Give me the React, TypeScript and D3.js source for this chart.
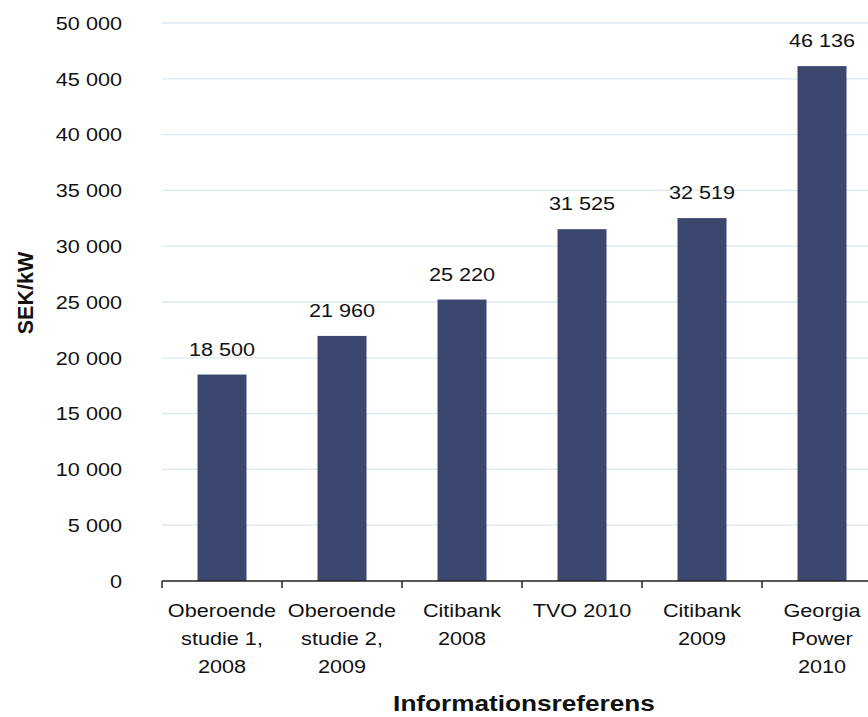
import * as d3 from 'd3';
import { useEffect, useRef } from 'react';

const categories = [
  ['Oberoende', 'studie 1,', '2008'],
  ['Oberoende', 'studie 2,', '2009'],
  ['Citibank', '2008'],
  ['TVO 2010'],
  ['Citibank', '2009'],
  ['Georgia', 'Power', '2010'],
];
const values = [18500, 21960, 25220, 31525, 32519, 46136];
const yTicks = [0, 5000, 10000, 15000, 20000, 25000, 30000, 35000, 40000, 45000, 50000];

const fmt = (v: number) => d3.format(',')(v).replace(/,/g, ' ');

const App = () => {
  const ref = useRef<SVGSVGElement>(null);

  useEffect(() => {
    const svg = d3.select(ref.current);
    svg.selectAll('*').remove();

    const width = 868;
    const height = 717;
    const margin = { top: 23, left: 162, bottom: 136 };
    const font = '"Liberation Sans", Arial, sans-serif';
    const sx = 1.14; // the original text is a bit wider than Arial

    const keys = categories.map((_, i) => String(i));
    // band continues past the right edge, like in the original
    const x = d3.scaleBand().domain(keys).range([margin.left, margin.left + 120 * keys.length]).padding(0);
    const y = d3.scaleLinear().domain([0, 50000]).range([height - margin.bottom, margin.top]);
    const base = y(0);
    const barW = 49;
    const mid = (i: number) => x(String(i))! + x.bandwidth() / 2;

    svg.attr('width', width).attr('height', height).style('font-family', font);

    // gridlines
    svg.append('g')
      .selectAll('line')
      .data(yTicks.filter(t => t > 0))
      .enter()
      .append('line')
      .attr('x1', margin.left)
      .attr('x2', width)
      .attr('y1', d => y(d))
      .attr('y2', d => y(d))
      .attr('stroke', '#dbe8f1')
      .attr('stroke-width', 1.3);

    // y tick labels
    svg.append('g')
      .selectAll('text')
      .data(yTicks)
      .enter()
      .append('text')
      .attr('transform', d => `translate(122, ${y(d)}) scale(${sx}, 1)`)
      .attr('dy', '0.36em')
      .attr('text-anchor', 'end')
      .style('font-size', '19px')
      .attr('fill', '#111')
      .text(d => fmt(d));

    // bars
    svg.append('g')
      .selectAll('rect')
      .data(values)
      .enter()
      .append('rect')
      .attr('x', (d, i) => mid(i) - barW / 2)
      .attr('y', d => y(d))
      .attr('width', barW)
      .attr('height', d => base - y(d))
      .attr('fill', '#3c4770');

    // value labels
    svg.append('g')
      .selectAll('text')
      .data(values)
      .enter()
      .append('text')
      .attr('transform', (d, i) => `translate(${mid(i)}, ${y(d) - 19}) scale(${sx}, 1)`)
      .attr('text-anchor', 'middle')
      .style('font-size', '19px')
      .attr('fill', '#111')
      .text(d => fmt(d));

    // x axis
    const axis = svg.append('g');
    axis.append('line')
      .attr('x1', margin.left)
      .attr('x2', width)
      .attr('y1', base)
      .attr('y2', base)
      .attr('stroke', '#222')
      .attr('stroke-width', 1.5);
    axis.selectAll('line.tick')
      .data(keys)
      .enter()
      .append('line')
      .attr('class', 'tick')
      .attr('x1', d => x(d)!)
      .attr('x2', d => x(d)!)
      .attr('y1', base)
      .attr('y2', base + 7)
      .attr('stroke', '#222')
      .attr('stroke-width', 1.5);

    const labels = axis.selectAll('text')
      .data(categories)
      .enter()
      .append('text')
      .attr('transform', (d, i) => `translate(${mid(i)}, ${base + 36}) scale(${sx}, 1)`)
      .attr('text-anchor', 'middle')
      .style('font-size', '19px')
      .attr('fill', '#111');
    labels.each(function (lines) {
      const t = d3.select(this);
      lines.forEach((line, j) => {
        t.append('tspan')
          .attr('x', 0)
          .attr('y', j * 28)
          .text(line);
      });
    });

    // axis titles
    svg.append('text')
      .attr('transform', `translate(524, 711) scale(1.19, 1)`)
      .attr('text-anchor', 'middle')
      .style('font-size', '22px')
      .style('font-weight', 'bold')
      .attr('fill', '#111')
      .text('Informationsreferens');

    svg.append('text')
      .attr('transform', `translate(33, 293) rotate(-90)`)
      .attr('text-anchor', 'middle')
      .style('font-size', '21.5px')
      .style('font-weight', 'bold')
      .attr('fill', '#111')
      .text('SEK/kW');
  }, []);

  return (
    <svg ref={ref} width="868" height="717" style={{ position: 'absolute', left: 0, top: 0, display: 'block' }}></svg>
  );
};

export default App;
